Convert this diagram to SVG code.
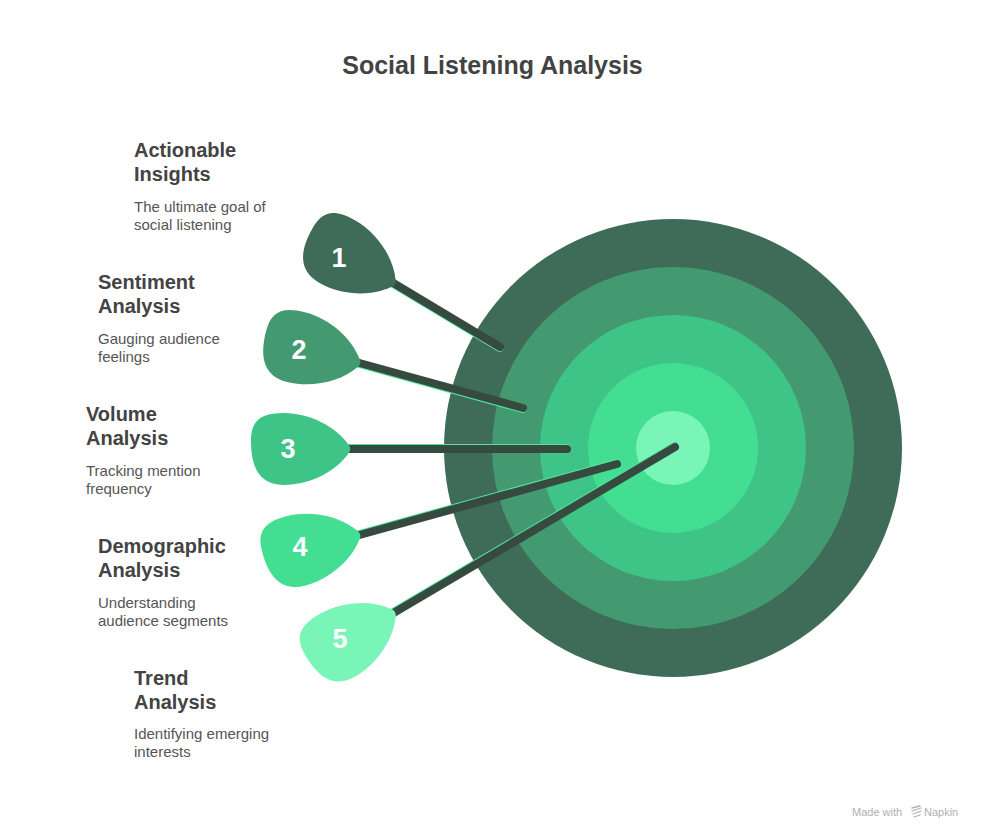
<svg xmlns="http://www.w3.org/2000/svg" width="985" height="840" viewBox="0 0 985 840">
  <defs>
    <path id="pick" d="M 0,-5 C -12,-22 -38,-36 -64,-36 C -88,-36 -97,-28 -97,-8 C -97,16 -90,36 -64,36 C -38,36 -12,22 0,5 C 3,2 3,-2 0,-5 Z"/>
  </defs>
  <style>
    .title { font-family: "Liberation Sans", Arial, sans-serif; font-weight: bold; font-size: 25px; fill: #434343; }
    .head { font-family: "Liberation Sans", Arial, sans-serif; font-weight: bold; font-size: 20px; fill: #434343; }
    .desc { font-family: "Liberation Sans", Arial, sans-serif; font-size: 15px; fill: #555555; }
    .num { font-family: "Liberation Sans", Arial, sans-serif; font-weight: bold; font-size: 27px; fill: #ffffff; text-anchor: middle; }
    .shaft { stroke: #374a40; stroke-width: 8; stroke-linecap: round; fill: none; }
    .glow { stroke: #4fe6a0; stroke-width: 8; stroke-linecap: round; fill: none; }
    .wm { font-family: "Liberation Sans", Arial, sans-serif; font-size: 11px; fill: #b0b0b0; }
  </style>
  <rect width="985" height="840" fill="#ffffff"/>
  <text class="title" x="492.5" y="74" text-anchor="middle">Social Listening Analysis</text>

  <g id="target">
    <circle cx="673" cy="448" r="229" fill="#3f6c58"/>
    <circle cx="673" cy="448" r="181" fill="#449a70"/>
    <circle cx="673" cy="448" r="133" fill="#3ec486"/>
    <circle cx="673" cy="448" r="85" fill="#43de92"/>
    <circle cx="673" cy="448" r="37" fill="#7af5b8"/>
  </g>

  <g id="connectors">
    <line class="glow" x1="379.5" y1="275.9" x2="499.5" y2="347.9"/>
    <line class="shaft" x1="380" y1="275" x2="500" y2="347"/>
    <line class="glow" x1="344.75" y1="360" x2="522.75" y2="409"/>
    <line class="shaft" x1="345" y1="359" x2="523" y2="408"/>
    <line class="glow" x1="335" y1="448" x2="567" y2="448"/>
    <line class="shaft" x1="335" y1="449" x2="567" y2="449"/>
    <line class="glow" x1="344.75" y1="538" x2="616.75" y2="463"/>
    <line class="shaft" x1="345" y1="539" x2="617" y2="464"/>
    <line class="glow" x1="379.5" y1="620.1" x2="674.5" y2="446.1"/>
    <line class="shaft" x1="380" y1="621" x2="675" y2="447"/>
  </g>

  <g id="node1">
    <use href="#pick" transform="translate(393,283) rotate(29.4)" fill="#3f6c58"/>
    <text class="num" x="339" y="267">1</text>
    <text class="head" x="134" y="157">Actionable</text>
    <text class="head" x="134" y="181">Insights</text>
    <text class="desc" x="134" y="212">The ultimate goal of</text>
    <text class="desc" x="134" y="230">social listening</text>
  </g>
  <g id="node2">
    <use href="#pick" transform="translate(358,363) rotate(14.4)" fill="#449a70"/>
    <text class="num" x="299" y="359">2</text>
    <text class="head" x="98" y="289">Sentiment</text>
    <text class="head" x="98" y="313">Analysis</text>
    <text class="desc" x="98" y="344">Gauging audience</text>
    <text class="desc" x="98" y="362">feelings</text>
  </g>
  <g id="node3">
    <use href="#pick" transform="translate(348,449)" fill="#3ec486"/>
    <text class="num" x="288" y="458">3</text>
    <text class="head" x="86" y="421">Volume</text>
    <text class="head" x="86" y="445">Analysis</text>
    <text class="desc" x="86" y="476">Tracking mention</text>
    <text class="desc" x="86" y="494">frequency</text>
  </g>
  <g id="node4">
    <use href="#pick" transform="translate(358,535) rotate(-14.4)" fill="#43de92"/>
    <text class="num" x="300" y="556">4</text>
    <text class="head" x="98" y="553">Demographic</text>
    <text class="head" x="98" y="577">Analysis</text>
    <text class="desc" x="98" y="608">Understanding</text>
    <text class="desc" x="98" y="626">audience segments</text>
  </g>
  <g id="node5">
    <use href="#pick" transform="translate(393,613) rotate(-30.2)" fill="#7af5b8"/>
    <text class="num" x="340" y="648">5</text>
    <text class="head" x="134" y="685">Trend</text>
    <text class="head" x="134" y="709">Analysis</text>
    <text class="desc" x="134" y="739">Identifying emerging</text>
    <text class="desc" x="134" y="757">interests</text>
  </g>

  <g id="watermark">
    <text class="wm" x="852" y="816">Made with</text>
    <path d="M912,808 l8,-2 M912,811 l9,-3 M913,814 l8,-3 M914,817 l6,-2" stroke="#b0b0b0" stroke-width="1.3" fill="none" stroke-linecap="round"/>
    <text class="wm" x="924" y="816">Napkin</text>
  </g>
</svg>
